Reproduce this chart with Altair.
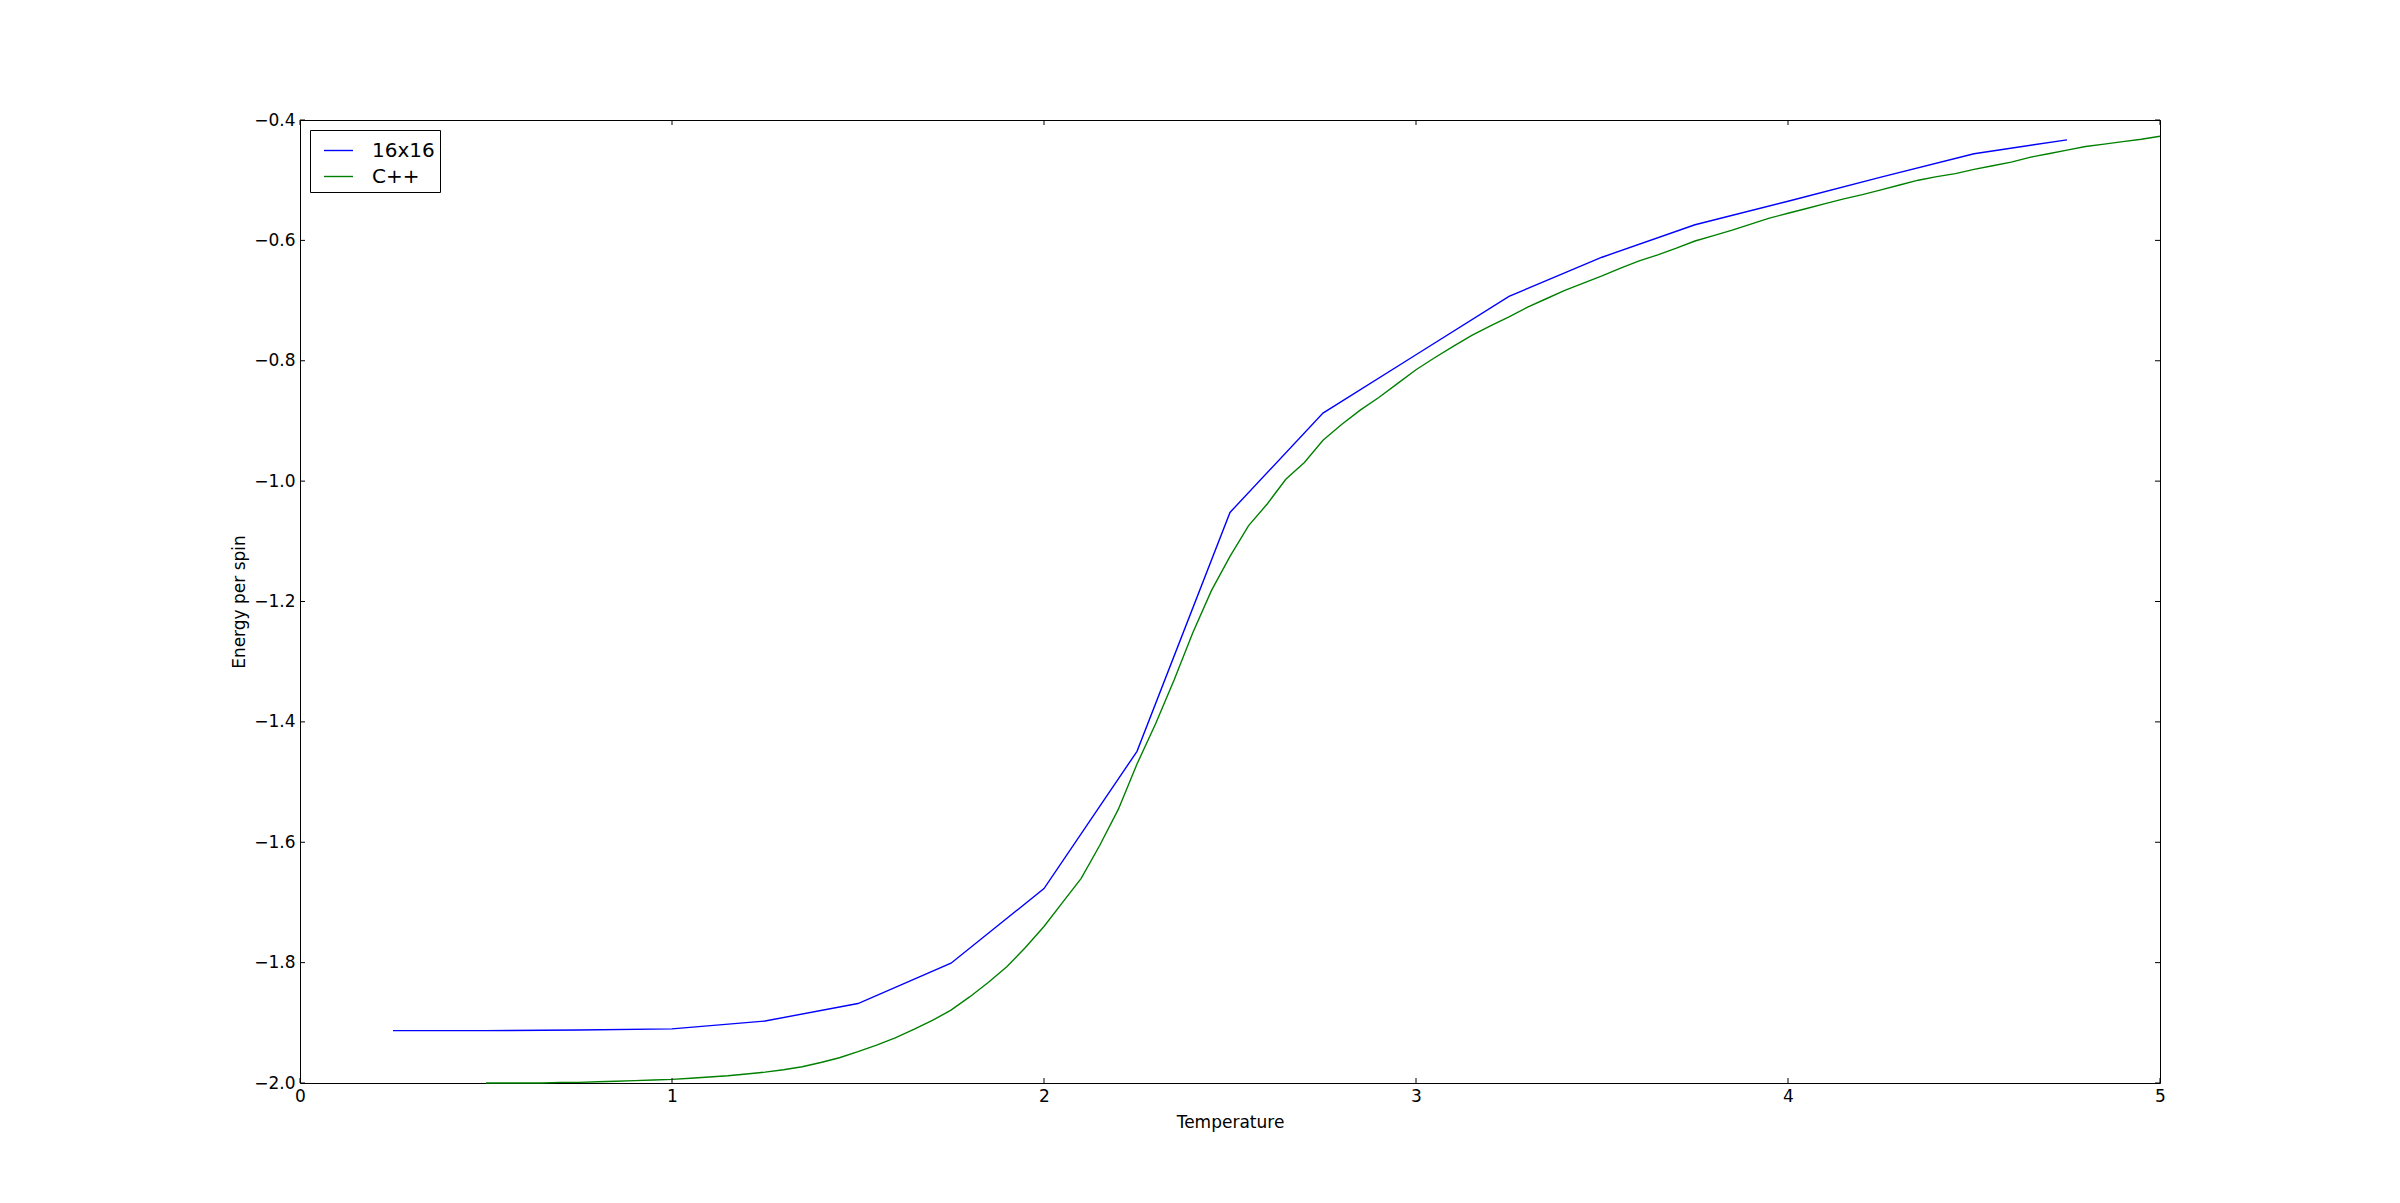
import altair as alt
import pandas as pd

# 16x16 series
blue_T = [0.25, 0.5, 0.75, 1.0, 1.25, 1.5, 1.75, 2.0, 2.25, 2.5, 2.75, 3.0,
          3.25, 3.5, 3.75, 4.0, 4.25, 4.5, 4.75]
blue_E = [-1.913, -1.913, -1.912, -1.910, -1.897, -1.868, -1.801, -1.677,
          -1.449, -1.052, -0.887, -0.790, -0.693, -0.628, -0.574, -0.535,
          -0.495, -0.456, -0.433]

# C++ series
green_T = [0.50, 0.55, 0.60, 0.65, 0.70, 0.75, 0.80, 0.85, 0.90, 0.95,
           1.00, 1.05, 1.10, 1.15, 1.20, 1.25, 1.30, 1.35, 1.40, 1.45,
           1.50, 1.55, 1.60, 1.65, 1.70, 1.75, 1.80, 1.85, 1.90, 1.95,
           2.00, 2.05, 2.10, 2.15, 2.20, 2.25, 2.30, 2.35, 2.40, 2.45,
           2.50, 2.55, 2.60, 2.65, 2.70, 2.75, 2.80, 2.85, 2.90, 2.95,
           3.00, 3.05, 3.10, 3.15, 3.20, 3.25, 3.30, 3.35, 3.40, 3.45,
           3.50, 3.55, 3.60, 3.65, 3.70, 3.75, 3.80, 3.85, 3.90, 3.95,
           4.00, 4.05, 4.10, 4.15, 4.20, 4.25, 4.30, 4.35, 4.40, 4.45,
           4.50, 4.55, 4.60, 4.65, 4.70, 4.75, 4.80, 4.85, 4.90, 4.95, 5.00]
green_E = [-2.000, -2.000, -2.000, -2.000, -1.999, -1.999, -1.998, -1.997, -1.996, -1.995,
           -1.994, -1.992, -1.990, -1.988, -1.985, -1.982, -1.978, -1.973, -1.966, -1.958,
           -1.948, -1.937, -1.925, -1.911, -1.896, -1.879, -1.857, -1.833, -1.807, -1.775,
           -1.740, -1.700, -1.660, -1.605, -1.545, -1.470, -1.403, -1.330, -1.252, -1.182,
           -1.125, -1.074, -1.038, -0.997, -0.969, -0.932, -0.906, -0.882, -0.861, -0.838,
           -0.815, -0.795, -0.776, -0.758, -0.742, -0.727, -0.711, -0.697, -0.683, -0.671,
           -0.659, -0.646, -0.634, -0.624, -0.613, -0.601, -0.592, -0.583, -0.573, -0.563,
           -0.555, -0.547, -0.539, -0.531, -0.524, -0.516, -0.508, -0.500, -0.494, -0.489,
           -0.482, -0.476, -0.470, -0.462, -0.456, -0.450, -0.444, -0.440, -0.436, -0.432,
           -0.427]

series_names = ["16x16", "C++"]
series_colors = ["#0000ff", "#008000"]

x_ticks = [0, 1, 2, 3, 4, 5]
y_ticks = [-2.0, -1.8, -1.6, -1.4, -1.2, -1.0, -0.8, -0.6, -0.4]

W, H = 1860, 963
FONT = "DejaVu Sans"

df = pd.concat([
    pd.DataFrame({"T": blue_T, "E": blue_E, "series": series_names[0]}),
    pd.DataFrame({"T": green_T, "E": green_E, "series": series_names[1]}),
])
xt = pd.DataFrame({"T": x_ticks})
yt = pd.DataFrame({"E": y_ticks})

xscale = alt.Scale(domain=[0, 5], nice=False, zero=False)
yscale = alt.Scale(domain=[-2.0, -0.4], nice=False, zero=False)

x_axis = alt.Axis(
    values=x_ticks, format="d", ticks=False, domain=False, grid=False,
    labelFont=FONT, labelFontSize=17, labelPadding=5, labelColor="black",
    labelFlush=False, labelOverlap=False,
    title="Temperature", titleFont=FONT, titleFontSize=17,
    titleFontWeight="normal", titleColor="black",
    titleX=W / 2, titleY=39, titleBaseline="middle", titleAlign="center")
y_axis = alt.Axis(
    values=y_ticks, format=".1f", ticks=False, domain=False, grid=False,
    labelFont=FONT, labelFontSize=17, labelPadding=5, labelColor="black",
    labelFlush=False, labelOverlap=False,
    title="Energy per spin", titleFont=FONT, titleFontSize=17,
    titleFontWeight="normal", titleColor="black", titleAngle=270,
    titleX=-61, titleY=H / 2, titleBaseline="middle", titleAlign="center")

lines = alt.Chart(df).mark_line(strokeWidth=1.4).encode(
    x=alt.X("T:Q", scale=xscale, axis=x_axis),
    y=alt.Y("E:Q", scale=yscale, axis=y_axis),
    color=alt.Color("series:N", sort=series_names,
                    scale=alt.Scale(domain=series_names, range=series_colors),
                    legend=alt.Legend(
                        title=None, orient="none", legendX=10, legendY=10,
                        symbolType="stroke", symbolSize=841, symbolStrokeWidth=1.4,
                        labelFont=FONT, labelFontSize=20, labelColor="black",
                        strokeColor="black", fillColor="white", padding=5,
                        symbolOffset=8, labelOffset=18, rowPadding=0,
                        cornerRadius=0)),
    detail="series:N",
)

xb = alt.Chart(xt).mark_rule(color="black", strokeWidth=1).encode(
    x=alt.X("T:Q", scale=xscale, axis=x_axis), y=alt.value(H), y2=alt.value(H - 5))
xtp = alt.Chart(xt).mark_rule(color="black", strokeWidth=1).encode(
    x=alt.X("T:Q", scale=xscale, axis=x_axis), y=alt.value(0), y2=alt.value(5))
yl = alt.Chart(yt).mark_rule(color="black", strokeWidth=1).encode(
    y=alt.Y("E:Q", scale=yscale, axis=y_axis), x=alt.value(0), x2=alt.value(5))
yr = alt.Chart(yt).mark_rule(color="black", strokeWidth=1).encode(
    y=alt.Y("E:Q", scale=yscale, axis=y_axis), x=alt.value(W), x2=alt.value(W - 5))

chart = alt.layer(lines, xb, xtp, yl, yr).properties(
    width=W, height=H,
    autosize=alt.AutoSizeParams(type="none"),
    padding={"left": 292, "top": 112, "right": 232, "bottom": 112},
    background="white",
).configure_view(stroke="black", strokeWidth=1)

chart.save("out.html", embed_options={"renderer": "svg", "actions": False})
